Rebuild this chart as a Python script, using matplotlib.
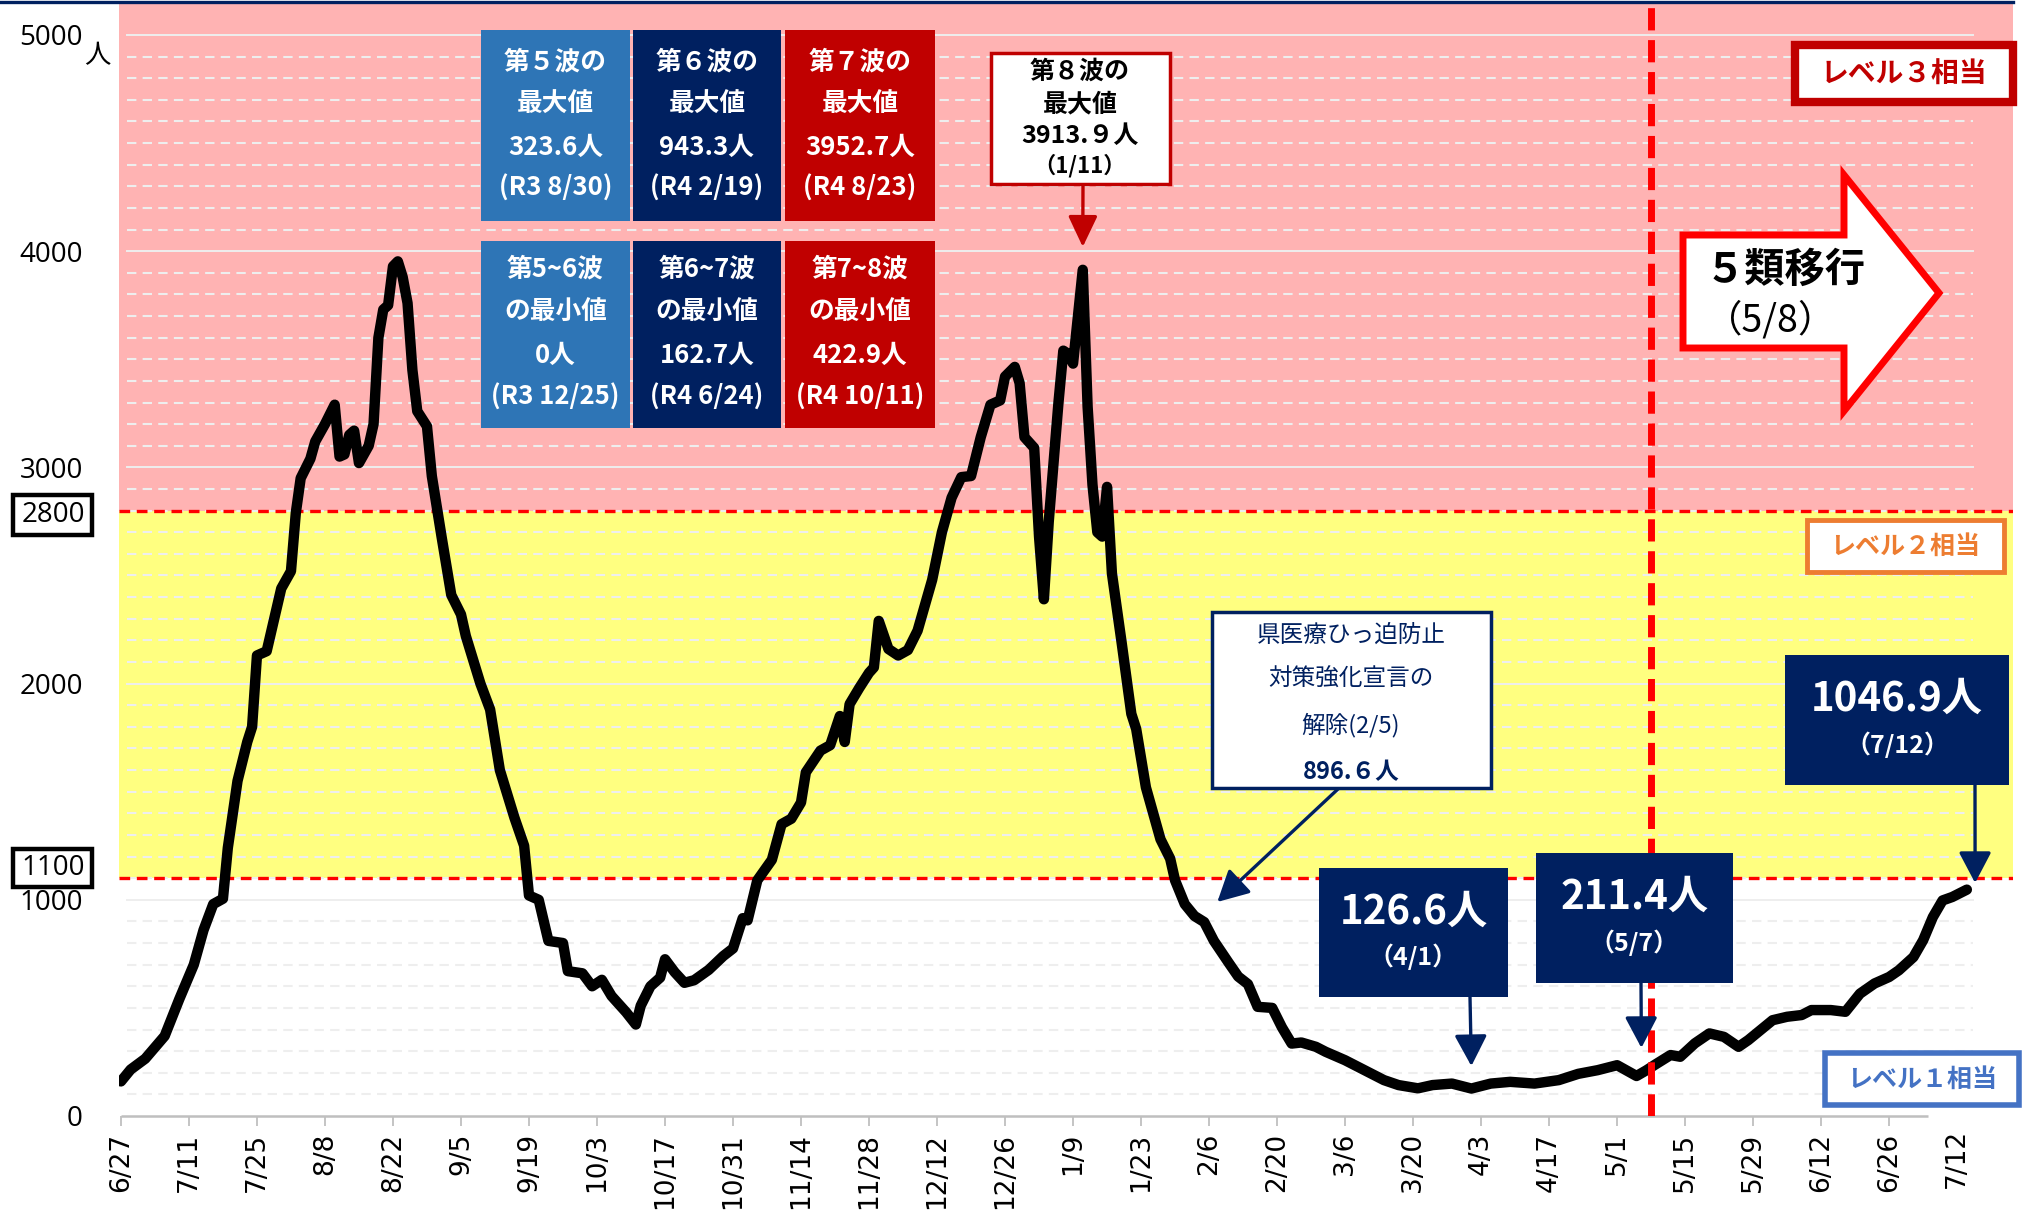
import matplotlib
matplotlib.use("Agg")
import matplotlib.pyplot as plt
from matplotlib.patches import Rectangle, Polygon
from matplotlib.lines import Line2D
from matplotlib.transforms import blended_transform_factory

plt.rcParams['font.family'] = ['Noto Sans CJK JP', 'DejaVu Sans']

# ---------------- data ----------------
# days since 2022-06-27
day_offset = [0, 2, 5, 9, 12, 15, 17, 19, 21, 22, 24, 26, 27, 28, 30, 33, 35, 36, 37, 39,
              40, 42, 44, 45, 46, 47, 48, 49, 51, 52, 53, 54, 55, 56, 57, 58, 59, 60, 61, 63,
              64, 66, 68, 70, 71, 74, 76, 78, 81, 83, 84, 86, 88, 91, 92, 95, 97, 99, 101, 103,
              104, 106, 107, 109, 111, 112, 114, 116, 118, 121, 124, 126, 128, 129, 131, 134, 136, 138, 140, 141,
              144, 146, 148, 149, 150, 152, 154, 155, 156, 158, 160, 162, 164, 167, 169, 171, 173, 175, 177, 179,
              181, 182, 184, 185, 186, 188, 189, 190, 191, 193, 194, 195, 196, 198, 199, 200, 201, 202, 203, 204,
              206, 208, 209, 211, 214, 216, 217, 219, 221, 223, 225, 228, 230, 232, 234, 237, 239, 241, 243, 246,
              248, 252, 256, 260, 263, 267, 270, 274, 278, 282, 286, 291, 296, 300, 304, 308, 312, 314, 316, 319,
              321, 324, 327, 330, 333, 335, 340, 343, 346, 348, 352, 355, 358, 361, 364, 366, 369, 371, 373, 375,
              377, 380]
cases = [160, 215, 265, 370, 540, 700, 860, 980, 1005, 1240, 1550, 1730, 1800, 2130, 2150, 2440, 2520, 2790, 2950, 3040,
         3120, 3200, 3290, 3050, 3060, 3150, 3170, 3020, 3100, 3200, 3600, 3730, 3750, 3930, 3953, 3880, 3760, 3450, 3260, 3190,
         2960, 2680, 2410, 2320, 2220, 2000, 1880, 1600, 1380, 1250, 1020, 1000, 810, 800, 670, 660, 600, 630, 555, 505,
         480, 423, 510, 600, 640, 725, 665, 616, 628, 676, 740, 775, 915, 905, 1090, 1185, 1350, 1375, 1450, 1590,
         1690, 1715, 1850, 1730, 1905, 1980, 2050, 2075, 2290, 2160, 2130, 2155, 2245, 2480, 2700, 2860, 2955, 2960, 3140, 3290,
         3310, 3420, 3465, 3390, 3140, 3090, 2680, 2390, 2750, 3300, 3540, 3525, 3480, 3914, 3280, 2920, 2700, 2680, 2910, 2510,
         2190, 1860, 1790, 1520, 1280, 1190, 1090, 980, 925, 897, 810, 710, 645, 610, 505, 500, 410, 335, 340, 320,
         297, 258, 212, 166, 143, 128, 143, 150, 127, 150, 158, 150, 166, 195, 212, 235, 185, 211, 240, 282,
         274, 336, 382, 366, 320, 351, 443, 459, 467, 490, 490, 482, 566, 613, 643, 674, 735, 813, 920, 997,
         1013, 1047]

tick_days = list(range(0, 365, 14))
tick_labels = ['6/27', '7/11', '7/25', '8/8', '8/22', '9/5', '9/19', '10/3', '10/17', '10/31', '11/14',
               '11/28', '12/12', '12/26', '1/9', '1/23', '2/6', '2/20', '3/6', '3/20', '4/3', '4/17',
               '5/1', '5/15', '5/29', '6/12', '6/26']
last_label = '7/12'
last_label_day = 378
y_ticks = [0, 1000, 2000, 3000, 4000, 5000]
level_lines = [1100, 2800]
transition_day = 315  # 5/8

wave_max_titles = ['第５波の\n最大値', '第６波の\n最大値', '第７波の\n最大値']
wave_max_values = ['323.6人', '943.3人', '3952.7人']
wave_max_dates = ['(R3 8/30)', '(R4 2/19)', '(R4 8/23)']
wave_min_titles = ['第5~6波\nの最小値', '第6~7波\nの最小値', '第7~8波\nの最小値']
wave_min_values = ['0人', '162.7人', '422.9人']
wave_min_dates = ['(R3 12/25)', '(R4 6/24)', '(R4 10/11)']

# ---------------- layout helpers ----------------
W, H = 2034, 1215
AX_L, AX_R, AX_T, AX_B = 119, 2013, 3, 1116
NAVY = '#002060'
BLUE = '#2E75B6'
DRED = '#C00000'

fig = plt.figure(figsize=(W / 100, H / 100), dpi=100)
ax = fig.add_axes([AX_L / W, 1 - AX_B / H, (AX_R - AX_L) / W, (AX_B - AX_T) / H])
ax.set_xlim(-0.4, 389.5)
ax.set_ylim(0, 5148)


def axp(px, py):
    return ((px - AX_L) / (AX_R - AX_L), (AX_B - py) / (AX_B - AX_T))


def rect(x0, y0, x1, y1, fc, ec='none', lw=0, z=7):
    a, b = axp(x0, y1)
    c, d = axp(x1, y0)
    ax.add_patch(Rectangle((a, b), c - a, d - b, transform=ax.transAxes, fc=fc, ec=ec,
                           lw=lw, clip_on=False, zorder=z))


def txt(px, py, s, z=8, **kw):
    kw.setdefault('ha', 'center')
    kw.setdefault('va', 'center')
    ax.text(*axp(px, py), s, transform=ax.transAxes, zorder=z, clip_on=False, **kw)


def arrow(xy, px, py, color, hw, hl, lw):
    ax.annotate('', xy=xy, xycoords='data', xytext=axp(px, py), textcoords='axes fraction',
                arrowprops=dict(arrowstyle=f'-|>,head_width={hw},head_length={hl}', color=color,
                                lw=lw, mutation_scale=20, shrinkA=0, shrinkB=0),
                zorder=9, annotation_clip=False)


# ---------------- background bands ----------------
ax.axhspan(2800, 5148, color='#FFB3B3', zorder=0, lw=0)
ax.axhspan(1100, 2800, color='#FFFF80', zorder=0, lw=0)

# grid
for v in range(100, 5100, 100):
    if v % 1000 == 0:
        ax.axhline(v, xmin=0.004, xmax=0.979, color='#EEEEEE', lw=1.4, zorder=1)
    else:
        ax.axhline(v, xmin=0.004, xmax=0.979, color='#EEEEEE', lw=1.5, zorder=1,
                   dashes=(4.5, 3))

for lv in level_lines:
    ax.axhline(lv, color='#FF0000', lw=2.4, zorder=2, dashes=(3.2, 2.0))

# x axis line and ticks
ax.plot([0, 372], [0, 0], color='#BFBFBF', lw=1.8, zorder=3, clip_on=False, solid_capstyle='butt')
for s in ax.spines.values():
    s.set_visible(False)
ax.set_xticks(tick_days)
ax.set_xticklabels(tick_labels, rotation=90, fontsize=19, family='DejaVu Sans')
ax.tick_params(axis='x', length=7, width=1.3, color='#BFBFBF', pad=5)
ax.set_yticks(y_ticks)
ax.set_yticklabels([str(v) for v in y_ticks], fontsize=20, family=['Open Sans', 'DejaVu Sans'])
ax.tick_params(axis='y', length=0, pad=26)
bt = blended_transform_factory(ax.transData, ax.transAxes)
ax.text(last_label_day, -(1129 - AX_B) / (AX_B - AX_T), last_label, transform=bt, rotation=90,
        ha='center', va='top', fontsize=19, family='DejaVu Sans')

# unit and boxed level labels
txt(97, 56, '人', fontsize=19)
for lv, (y0, y1) in zip(level_lines, [(849, 887), (495, 535)]):
    rect(13, y0, 92, y1, fc='white', ec='black', lw=3.2, z=7)
    txt(53, (y0 + y1) / 2, str(lv), fontsize=20, family=['Open Sans', 'DejaVu Sans'])

# ---------------- data line ----------------
ax.plot(day_offset, cases, color='black', lw=7.5, solid_joinstyle='round',
        solid_capstyle='round', zorder=5)

# transition line 5/8
ax.axvline(transition_day, color='#FF0000', lw=5, zorder=6, dashes=(3.2, 1.4))

# ---------------- wave boxes ----------------
cols = [(481, 630, BLUE), (633, 781, NAVY), (785, 935, DRED)]
for i, (x0, x1, c) in enumerate(cols):
    cx = (x0 + x1) / 2
    rect(x0, 30, x1, 221, fc=c)
    t1, t2 = wave_max_titles[i].split('\n')
    for yy, s in zip([62, 104, 147, 188], [t1, t2, wave_max_values[i], wave_max_dates[i]]):
        txt(cx, yy, s, color='white', fontsize=18.5, fontweight='bold')
    rect(x0, 241, x1, 428, fc=c)
    t1, t2 = wave_min_titles[i].split('\n')
    for yy, s in zip([269, 312, 355, 397], [t1, t2, wave_min_values[i], wave_min_dates[i]]):
        txt(cx, yy, s, color='white', fontsize=18.5, fontweight='bold')

# 8th wave peak box
rect(991, 53, 1170, 184, fc='white', ec=DRED, lw=2.5)
for yy, s, fs in zip([72, 104, 136, 166], ['第８波の', '最大値', '3913.９人', '（1/11）'], [18, 18, 18, 16]):
    txt(1080, yy, s, color='black', fontsize=fs, fontweight='bold')
arrow((198, 4020), 1083, 185, DRED, 0.45, 0.95, 2.4)

# level boxes
rect(1795, 45, 2013, 102, fc='white', ec=DRED, lw=6)
txt(1904, 75, 'レベル３相当', color=DRED, fontsize=20, fontweight='bold')
rect(1807, 520, 2004, 572, fc='white', ec='#ED7D31', lw=3.5)
txt(1905, 547, 'レベル２相当', color='#ED7D31', fontsize=18, fontweight='bold')
rect(1825, 1053, 2019, 1105, fc='white', ec='#4472C4', lw=4)
txt(1922, 1080, 'レベル１相当', color='#4472C4', fontsize=18, fontweight='bold')

# 5類移行 block arrow
pts = [(1683, 235), (1844, 235), (1844, 175), (1939, 293), (1844, 411), (1844, 348), (1683, 348)]
ax.add_patch(Polygon([axp(*p) for p in pts], closed=True, transform=ax.transAxes, fc='white',
                     ec='#FF0000', lw=5, joinstyle='miter', clip_on=False, zorder=7))
txt(1785, 270, '５類移行', color='black', fontsize=29, fontweight='bold')
txt(1771, 321, '（5/8）', color='black', fontsize=27)

# 県医療ひっ迫 box
rect(1212, 612, 1491, 788, fc='white', ec=NAVY, lw=2.5)
for yy, s in zip([635, 679, 725], ['県医療ひっ迫防止', '対策強化宣言の', '解除(2/5)']):
    txt(1351, yy, s, color=NAVY, fontsize=17)
txt(1351, 772, '896.６人', color=NAVY, fontsize=17, fontweight='bold')
arrow((225.7, 990), 1338, 789, NAVY, 0.5, 0.95, 2.4)

# navy value boxes
navy_boxes = [
    ((1319, 868, 1508, 997), '126.6人', '（4/1）', (278, 231), 1470),
    ((1536, 853, 1733, 983), '211.4人', '（5/7）', (313, 315), 1641),
    ((1785, 655, 2009, 785), '1046.9人', '（7/12）', (381.7, 1078), 1975),
]
for (x0, y0, x1, y1), main, sub, tip, ax_x in navy_boxes:
    rect(x0, y0, x1, y1, fc=NAVY, z=7)
    cx = (x0 + x1) / 2
    txt(cx, y0 + 0.34 * (y1 - y0), main, color='white', fontsize=29, fontweight='bold')
    txt(cx, y0 + 0.69 * (y1 - y0), sub, color='white', fontsize=18, fontweight='bold')
    arrow(tip, ax_x, y1, NAVY, 0.5, 0.95, 2.4)

# top navy border
fig.add_artist(Line2D([0, AX_R / W], [1 - 1.5 / H, 1 - 1.5 / H], color=NAVY, lw=2.4,
                      transform=fig.transFigure))

fig.savefig('out.png', dpi=100, facecolor='white')
